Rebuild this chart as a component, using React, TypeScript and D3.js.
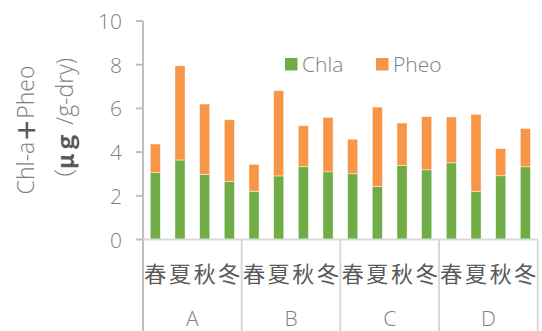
import React from "react";
import * as d3 from "d3";

// Sampling sites and seasons
const sites = ["A", "B", "C", "D"];
const seasons = ["春", "夏", "秋", "冬"];

// Chl-a and pheophytin (µg/g-dry), site-major order: A春..A冬, B春.. etc.
const chla = [3.06, 3.64, 2.98, 2.65, 2.21, 2.91, 3.33, 3.10, 3.01, 2.42, 3.39, 3.19, 3.51, 2.19, 2.92, 3.33];
const pheo = [1.31, 4.31, 3.22, 2.83, 1.23, 3.90, 1.88, 2.49, 1.58, 3.64, 1.94, 2.43, 2.10, 3.54, 1.24, 1.75];

const yTicks = [0, 2, 4, 6, 8, 10];

const W = 542;
const H = 331;
const LEFT = 143;
const RIGHT = 537.7;
const TOP = 21;
const BOTTOM = 239.5;

const GREEN = "#70AD47";
const ORANGE = "#F79646";
const LATIN = "'Open Sans', 'Noto Sans', sans-serif";
const CJK = "'Noto Sans CJK JP', 'Noto Sans CJK SC', sans-serif";

export default function App() {
  const keys = sites.flatMap((s) => seasons.map((q) => `${s}-${q}`));
  const x = d3
    .scaleBand<string>()
    .domain(keys)
    .range([LEFT, RIGHT])
    .paddingInner(0.59)
    .paddingOuter(0.295);
  const y = d3.scaleLinear().domain([0, 10]).range([BOTTOM, TOP]);

  const groupW = (RIGHT - LEFT) / sites.length;
  const bw = x.bandwidth();

  return (
    <svg
      width={W}
      height={H}
      style={{ position: "absolute", left: 0, top: 0, background: "#fff" }}
    >
      {/* y axis title */}
      <text
        transform={`translate(25,130) rotate(-90)`}
        textAnchor="middle"
        dominantBaseline="central"
        fontFamily={LATIN}
        fontWeight={300}
        fontSize={23}
        fill="#808080"
      >
        Chl-a<tspan fontFamily={CJK} fontWeight={700} fill="#595959">＋</tspan>Pheo
      </text>
      <text
        transform={`translate(64,125) rotate(-90)`}
        textAnchor="middle"
        dominantBaseline="central"
        fontFamily={LATIN}
        fontWeight={300}
        fontSize={23}
        fill="#808080"
      >
        <tspan fontFamily={CJK} fontWeight={300}>（</tspan>
        <tspan fontFamily={CJK} fontWeight={700} fill="#595959">μｇ</tspan> /g-dry)
      </text>

      {/* y ticks and labels */}
      {yTicks.map((t) => (
        <g key={t}>
          <line x1={136} x2={LEFT} y1={y(t)} y2={y(t)} stroke="#BFBFBF" strokeWidth={2} />
          <text
            x={122}
            y={y(t)}
            textAnchor="end"
            dominantBaseline="central"
            fontFamily={LATIN}
            fontWeight={300}
            fontSize={21}
            fill="#808080"
          >
            {t}
          </text>
        </g>
      ))}

      {/* stacked bars */}
      {keys.map((k, i) => (
        <g key={k}>
          <rect
            x={x(k)}
            y={y(chla[i])}
            width={bw}
            height={y(0) - y(chla[i])}
            fill={GREEN}
            stroke="#ffffff"
            strokeOpacity={0.6}
            strokeWidth={0.75}
          />
          <rect
            x={x(k)}
            y={y(chla[i] + pheo[i])}
            width={bw}
            height={y(chla[i]) - y(chla[i] + pheo[i])}
            fill={ORANGE}
            stroke="#ffffff"
            strokeOpacity={0.6}
            strokeWidth={0.75}
          />
        </g>
      ))}

      {/* axes */}
      <line x1={LEFT} x2={LEFT} y1={TOP} y2={H} stroke="#BFBFBF" strokeWidth={2} />
      <line x1={LEFT} x2={RIGHT} y1={y(0)} y2={y(0)} stroke="#D9D9D9" strokeWidth={2} />
      {sites.map((s, gi) => (
        <line
          key={s}
          x1={LEFT + groupW * (gi + 1)}
          x2={LEFT + groupW * (gi + 1)}
          y1={y(0)}
          y2={H}
          stroke="#D9D9D9"
          strokeWidth={2}
        />
      ))}

      {/* season labels */}
      {keys.map((k, i) => (
        <text
          key={k}
          x={(x(k) as number) + bw / 2}
          y={272}
          textAnchor="middle"
          dominantBaseline="central"
          fontFamily={CJK}
          fontSize={22}
          fill="#595959"
        >
          {seasons[i % 4]}
        </text>
      ))}

      {/* site labels */}
      {sites.map((s, gi) => (
        <text
          key={s}
          x={LEFT + groupW * (gi + 0.5)}
          y={318}
          textAnchor="middle"
          dominantBaseline="central"
          fontFamily={LATIN}
          fontWeight={300}
          fontSize={21}
          fill="#808080"
        >
          {s}
        </text>
      ))}

      {/* legend */}
      <rect x={285} y={58} width={12.5} height={12.5} fill={GREEN} />
      <text x={302} y={64} dominantBaseline="central" fontFamily={LATIN} fontWeight={300} fontSize={21} fill="#808080">
        Chla
      </text>
      <rect x={376} y={58} width={12.5} height={12.5} fill={ORANGE} />
      <text x={393} y={64} dominantBaseline="central" fontFamily={LATIN} fontWeight={300} fontSize={21} fill="#808080">
        Pheo
      </text>
    </svg>
  );
}
